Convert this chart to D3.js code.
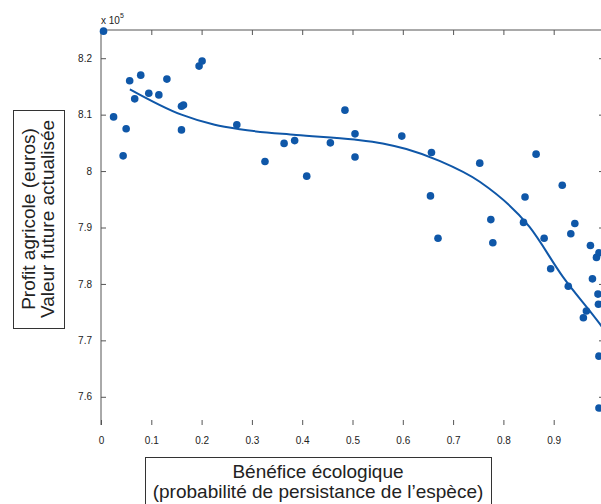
<!DOCTYPE html>
<html>
<head>
<meta charset="utf-8">
<script src="https://cdn.jsdelivr.net/npm/d3@7"></script>
<style>
  body { margin: 0; background: #fff; }
  text { font-family: "Liberation Sans", Arial, sans-serif; }
</style>
</head>
<body>
<div id="main"></div>
<script>
// data (profit in units of 10^5 euros)
const benefit = [0.005, 0.025, 0.050, 0.044, 0.057, 0.067, 0.079, 0.095, 0.115, 0.131,
    0.160, 0.164, 0.160, 0.195, 0.201, 0.270, 0.326, 0.364, 0.385, 0.409,
    0.456, 0.485, 0.505, 0.505, 0.598, 0.657, 0.655, 0.670, 0.753, 0.775,
    0.779, 0.843, 0.840, 0.865, 0.881, 0.894, 0.917, 0.934, 0.942, 0.929,
    0.959, 0.965, 0.973, 0.977, 0.985, 0.990, 0.988, 0.989, 0.990, 0.990];
const profit = [8.248, 8.096, 8.075, 8.027, 8.160, 8.128, 8.170, 8.138, 8.135, 8.163,
    8.115, 8.117, 8.073, 8.186, 8.195, 8.082, 8.017, 8.049, 8.054, 7.991,
    8.050, 8.108, 8.066, 8.025, 8.062, 8.033, 7.956, 7.881, 8.014, 7.914,
    7.873, 7.954, 7.909, 8.030, 7.881, 7.827, 7.975, 7.889, 7.907, 7.796,
    7.740, 7.752, 7.868, 7.809, 7.847, 7.855, 7.782, 7.764, 7.672, 7.580];

// fitted curve
const fitX = [0.0575, 0.160, 0.226, 0.276, 0.388, 0.504, 0.560, 0.607, 0.673, 0.753, 0.852, 0.918, 0.991, 1.0];
const fitY = [8.145, 8.100, 8.082, 8.074, 8.064, 8.056, 8.049, 8.039, 8.018, 7.981, 7.901, 7.813, 7.730, 7.719];

const xTicks = [0, 0.1, 0.2, 0.3, 0.4, 0.5, 0.6, 0.7, 0.8, 0.9, 1];
const yTicks = [7.6, 7.7, 7.8, 7.9, 8, 8.1, 8.2];

const yLabelLines = ['Profit agricole (euros)', 'Valeur future actualisée'];
const xLabelLines = ['Bénéfice écologique', '(probabilité de persistance de l’espèce)'];

const blue = '#0f57a8';
const axisColor = '#555';

const svg = d3.select('#main')
    .append('svg')
    .attr('width', 601)
    .attr('height', 504);

const xScale = d3.scaleLinear().domain([0, 1]).range([101, 604]);
const yScale = d3.scaleLinear().domain([7.55, 8.25]).range([425, 30]);

const plotLeft = xScale(0), plotRight = xScale(1);
const plotTop = yScale(8.25), plotBottom = yScale(7.55);

// box lines (left, top, right) - no bottom line in the reference
svg.append('path')
    .attr('d', `M${plotLeft},${plotBottom}V${plotTop}H${plotRight}V${plotBottom}`)
    .attr('fill', 'none')
    .attr('stroke', axisColor)
    .attr('stroke-width', 1);

// bottom axis, ticks pointing inward
const xAxis = svg.append('g')
    .attr('transform', `translate(0, ${plotBottom})`)
    .call(d3.axisBottom(xScale).tickValues(xTicks.slice(0, 10)).tickSizeInner(-5).tickSizeOuter(0)
        .tickPadding(12).tickFormat(d => d === 0 ? '0' : d3.format('.1f')(d)));
xAxis.select('.domain').remove();

// top ticks
svg.append('g')
    .attr('transform', `translate(0, ${plotTop})`)
    .call(d3.axisTop(xScale).tickValues(xTicks.slice(1, 10)).tickSizeInner(-5).tickSizeOuter(0).tickFormat(''))
    .select('.domain').remove();

// left axis
const yAxis = svg.append('g')
    .attr('transform', `translate(${plotLeft}, 0)`)
    .call(d3.axisLeft(yScale).tickValues(yTicks).tickSizeInner(-5).tickSizeOuter(0)
        .tickPadding(9).tickFormat(d => d === 8 ? '8' : d3.format('.1f')(d)));
yAxis.select('.domain').remove();

// right ticks
svg.append('g')
    .attr('transform', `translate(${plotRight}, 0)`)
    .call(d3.axisRight(yScale).tickValues(yTicks).tickSizeInner(-5).tickSizeOuter(0).tickFormat(''))
    .select('.domain').remove();

svg.selectAll('.tick line').attr('stroke', axisColor);
svg.selectAll('.tick text').attr('fill', '#222').style('font-size', '10px');

// exponent label
const expo = svg.append('text')
    .attr('x', plotLeft)
    .attr('y', 24)
    .attr('fill', '#222')
    .style('font-size', '10px');
expo.append('tspan').text('x 10');
expo.append('tspan').attr('dy', -6).style('font-size', '7px').text('5');

// clip to the plot area
svg.append('clipPath').attr('id', 'plot-clip')
    .append('rect')
    .attr('x', plotLeft - 5).attr('y', plotTop - 5)
    .attr('width', plotRight - plotLeft + 10).attr('height', plotBottom - plotTop + 10);

const plot = svg.append('g').attr('clip-path', 'url(#plot-clip)');

// fitted line
plot.append('path')
    .datum(fitX.map((x, i) => [x, fitY[i]]))
    .attr('fill', 'none')
    .attr('stroke', blue)
    .attr('stroke-width', 2)
    .attr('d', d3.line()
        .x(d => xScale(d[0]))
        .y(d => yScale(d[1]))
        .curve(d3.curveMonotoneX));

// points
plot.selectAll('circle')
    .data(benefit.map((x, i) => [x, profit[i]]))
    .enter()
    .append('circle')
    .attr('cx', d => xScale(d[0]))
    .attr('cy', d => yScale(d[1]))
    .attr('r', 3.8)
    .attr('fill', blue);

// y label box
svg.append('rect')
    .attr('x', 13.5).attr('y', 110.5)
    .attr('width', 51).attr('height', 218)
    .attr('fill', 'none')
    .attr('stroke', '#333');

svg.selectAll('.ylab')
    .data(yLabelLines)
    .enter()
    .append('text')
    .attr('class', 'ylab')
    .attr('transform', (d, i) => `translate(${35 + i * 19}, 219) rotate(-90)`)
    .attr('text-anchor', 'middle')
    .attr('fill', '#222')
    .style('font-size', '19px')
    .text(d => d);

// x label box
svg.append('rect')
    .attr('x', 145.5).attr('y', 457.5)
    .attr('width', 346).attr('height', 60)
    .attr('fill', 'none')
    .attr('stroke', '#333');

svg.selectAll('.xlab')
    .data(xLabelLines)
    .enter()
    .append('text')
    .attr('class', 'xlab')
    .attr('x', 318)
    .attr('y', (d, i) => 478 + i * 20)
    .attr('text-anchor', 'middle')
    .attr('fill', '#222')
    .style('font-size', '19px')
    .text(d => d);
</script>
</body>
</html>
